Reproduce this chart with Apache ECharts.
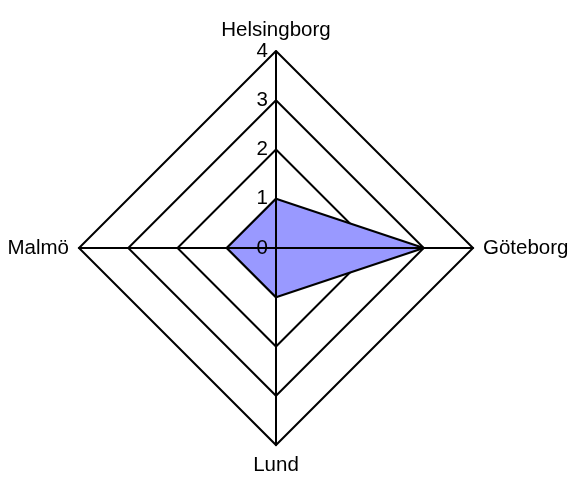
<!DOCTYPE html>
<html>
<head>
<meta charset="utf-8">
<script src="https://cdn.jsdelivr.net/npm/echarts@6/dist/echarts.min.js"></script>
<style>
  html, body { margin: 0; padding: 0; background: #fff; }
  #chart { width: 572px; height: 478px; }
</style>
</head>
<body>
<div id="chart"></div>
<script>
// indicators in counterclockwise order starting at the top
var cities = ["Helsingborg", "Malmö", "Lund", "Göteborg"];
var values = [1, 1, 1, 3];
var maxValue = 4;

var chartDom = document.getElementById("chart");
var radarChart = echarts.init(chartDom, null, {renderer: "canvas"});

var font = "Liberation Sans, Arial, sans-serif";

// grid radar: rings and names (below the data)
var indicators = cities.map(function (c) {
  return {name: c, max: maxValue, min: 0};
});
// axis radar: spokes and tick labels (above the data)
var axisIndicators = cities.map(function (c, i) {
  var ind = {name: "", max: maxValue, min: 0};
  if (i === 0) ind.axisLabel = {show: true};
  return ind;
});

radarChart.setOption({
  animation: false,
  radar: [
    {
      z: 1,
      center: [276, 248],
      radius: 197,
      startAngle: 90,
      shape: "polygon",
      splitNumber: 4,
      indicator: indicators,
      nameGap: 10,
      axisName: {color: "#000", fontFamily: font, fontSize: 20.5},
      axisLine: {show: false},
      axisTick: {show: false},
      axisLabel: {show: false},
      splitArea: {show: false},
      splitLine: {lineStyle: {color: "#000", width: 2}}
    },
    {
      z: 3,
      center: [276, 248],
      radius: 197,
      startAngle: 90,
      shape: "polygon",
      splitNumber: 4,
      indicator: axisIndicators,
      axisName: {show: false},
      axisLine: {lineStyle: {color: "#000", width: 2}},
      axisTick: {show: false},
      axisLabel: {show: false, color: "#000", fontFamily: font, fontSize: 20.5, margin: 8},
      splitArea: {show: false},
      splitLine: {show: false}
    }
  ],
  series: [
    {
      // filled area
      type: "radar",
      radarIndex: 0,
      z: 2,
      symbol: "none",
      data: [{value: values}],
      lineStyle: {width: 0},
      areaStyle: {color: "#9999ff", opacity: 1}
    },
    {
      // outline on top of the fill
      type: "radar",
      radarIndex: 0,
      z: 2.5,
      symbol: "none",
      data: [{value: values}],
      lineStyle: {color: "#000", width: 2}
    }
  ]
});
</script>
</body>
</html>
